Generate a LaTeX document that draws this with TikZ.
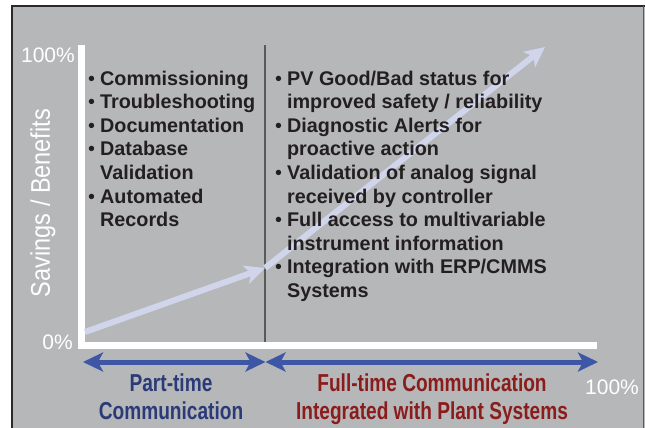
\documentclass[tikz,border=0pt]{standalone}
\usepackage{fontspec}
\setmainfont{Liberation Sans}
\newfontfamily\condfont[FakeStretch=0.87]{Liberation Sans}
\newfontfamily\tallcondfont[FakeStretch=0.78]{Liberation Sans}
\usetikzlibrary{arrows.meta}
\definecolor{bggray}{HTML}{B6B7B9}
\definecolor{frame}{HTML}{2A2A2A}
\definecolor{textdark}{HTML}{231F20}
\definecolor{lightarrow}{HTML}{D0D5EC}
\definecolor{bluearrow}{HTML}{3D57A6}
\definecolor{bluetext}{HTML}{2B3A78}
\definecolor{redtext}{HTML}{8B1C1C}
\definecolor{divider}{HTML}{5A5A5A}
\tikzset{
  axislabel/.style={inner sep=0pt, text=white, font=\fontsize{21}{21}\selectfont},
  listbox/.style={inner sep=0pt, text=textdark, font=\bfseries\fontsize{19.8}{23.6}\selectfont},
  bottomlabel/.style={inner sep=0pt, font=\tallcondfont\bfseries\fontsize{24.5}{24.5}\selectfont},
  growth/.style={draw=lightarrow, line width=6pt, -{Stealth[length=20pt,width=19pt,inset=5pt]}},
  span/.style={draw=bluearrow, line width=5pt, {Stealth[length=20pt,width=19pt,inset=5pt]}-{Stealth[length=20pt,width=19pt,inset=5pt]}},
}
\newcommand{\bul}{{\mdseries\textbullet}}
\begin{document}
\begin{tikzpicture}[x=1pt,y=-1pt]
\useasboundingbox (0,0) rectangle (645,428);
\fill[white] (0,0) rectangle (645,428);
\fill[bggray] (12,6) rectangle (645,430);
\draw[frame, line width=1.5pt] (12,430) -- (12,6) -- (645,6);
\draw[gray!70!black, line width=1pt] (643,6) -- (643,430);

% axes
\fill[white] (78,45) rectangle (85,349);
\fill[white] (78,342) rectangle (597,349);
\draw[divider, line width=2pt] (265,45) -- (265,342);

% growth arrows
\coordinate (g0) at (85,332);
\coordinate (g1) at (265,268);
\coordinate (g2) at (545,47);
\draw[growth] (g0) -- (g1);
\draw[growth] (g1) -- (g2);

% axis labels
\node[axislabel, anchor=base east] (top100) at (75,63) {100\%};
\node[axislabel, anchor=base east] (zero) at (73,349) {0\%};
\node[axislabel, anchor=base west] (right100) at (585,394) {100\%};
\node[inner sep=0pt, text=white, rotate=90, font=\condfont\fontsize{27}{27}\selectfont] (ylab) at (43,203) {Savings / Benefits};

% bullet lists
\node[listbox, anchor=base west] (left) at (88,85) {%
\begin{tabular}[t]{@{}l@{\hspace{5pt}}l@{}}
\bul & Commissioning\\
\bul & Troubleshooting\\
\bul & Documentation\\
\bul & Database\\
     & Validation\\
\bul & Automated\\
     & Records
\end{tabular}};
\node[listbox, anchor=base west] (right) at (275,85) {%
\begin{tabular}[t]{@{}l@{\hspace{5pt}}l@{}}
\bul & PV Good/Bad status for\\
     & improved safety / reliability\\
\bul & Diagnostic Alerts for\\
     & proactive action\\
\bul & Validation of analog signal\\
     & received by controller\\
\bul & Full access to multivariable\\
     & instrument information\\
\bul & Integration with ERP/CMMS\\
     & Systems
\end{tabular}};

% span arrows
\coordinate (s0) at (83,362);
\coordinate (s1) at (265.5,362);
\coordinate (s2) at (598,362);
\draw[span] (s0) -- (s1);
\draw[span] (s1) -- (s2);

% bottom labels
\node[bottomlabel, text=bluetext, anchor=base] (pt1) at (171,391) {Part-time};
\node[bottomlabel, text=bluetext, anchor=base] (pt2) at (171,419) {Communication};
\node[bottomlabel, text=redtext, anchor=base] (ft1) at (432,391) {Full-time Communication};
\node[bottomlabel, text=redtext, anchor=base] (ft2) at (432,419) {Integrated with Plant Systems};
\end{tikzpicture}
\end{document}
